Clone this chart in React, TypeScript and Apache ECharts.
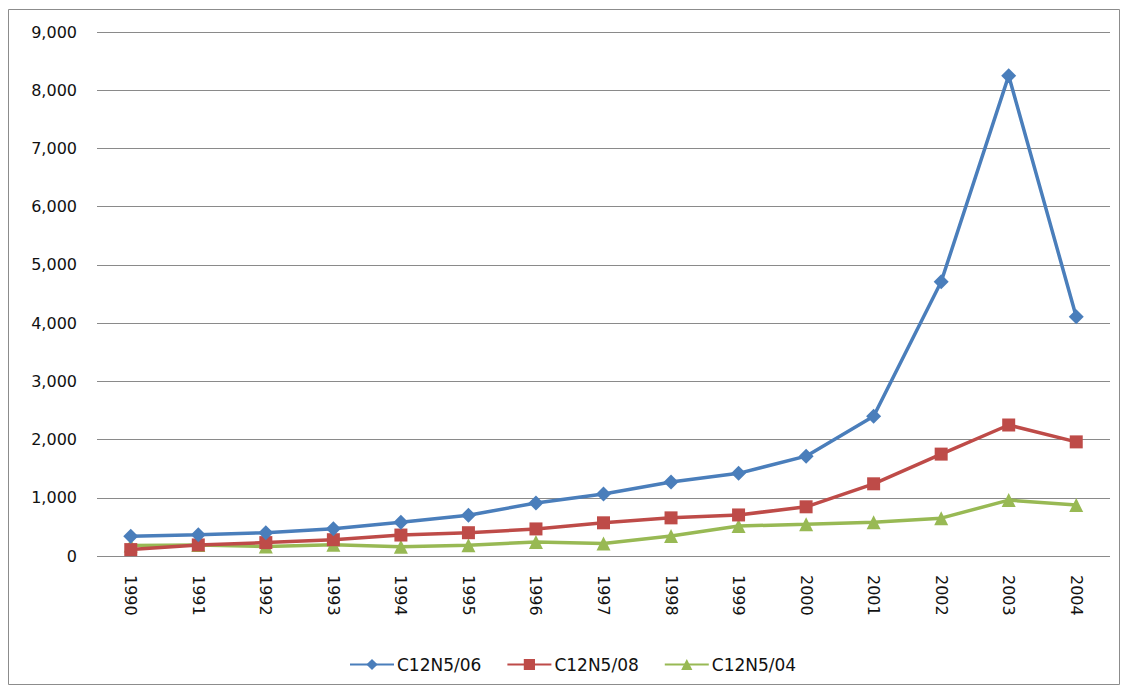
import React, { useEffect, useRef } from "react";
import * as echarts from "echarts";

const years = ["1990", "1991", "1992", "1993", "1994", "1995", "1996", "1997", "1998", "1999", "2000", "2001", "2002", "2003", "2004"];
const seriesNames = ["C12N5/06", "C12N5/08", "C12N5/04"];
const c12n5_06 = [340, 365, 400, 470, 580, 700, 910, 1065, 1270, 1420, 1715, 2400, 4710, 8250, 4110];
const c12n5_08 = [110, 190, 230, 280, 360, 400, 465, 570, 655, 705, 845, 1240, 1750, 2250, 1960];
const c12n5_04 = [180, 190, 165, 195, 160, 185, 240, 215, 345, 515, 545, 580, 650, 960, 875];
const colors = ["#4A7EBB", "#BE4B48", "#98B954"];
const symbols = ["diamond", "rect", "triangle"];
const symbolSizes = [15, 13, 14];

export default function App() {
  const ref = useRef<HTMLDivElement>(null);
  useEffect(() => {
    if (!ref.current) return;
    const chart = echarts.init(ref.current, null, { renderer: "svg" });
    const data = [c12n5_06, c12n5_08, c12n5_04];
    chart.setOption({
      animation: false,
      backgroundColor: "#ffffff",
      textStyle: { fontFamily: "DejaVu Sans" },
      graphic: [
        {
          type: "rect",
          shape: { x: 8.5, y: 9.5, width: 1111, height: 675 },
          style: { fill: "none", stroke: "#8c8c8c", lineWidth: 1 },
          silent: true,
        },
      ],
      grid: { left: 97, right: 12, top: 32, bottom: 131 },
      legend: {
        top: 651,
        left: 344,
        itemWidth: 44,
        itemHeight: 14,
        itemGap: 25,
        textStyle: { fontSize: 17, color: "#111", fontFamily: "DejaVu Sans", padding: [0, 0, 0, -2] },
        data: seriesNames,
      },
      xAxis: {
        type: "category",
        data: years,
        boundaryGap: true,
        axisLine: { show: false },
        axisTick: { show: false },
        axisLabel: { rotate: -90, fontSize: 16, color: "#111", margin: 19 },
      },
      yAxis: {
        type: "value",
        min: 0,
        max: 9000,
        interval: 1000,
        axisLine: { show: false },
        axisTick: { show: false },
        axisLabel: {
          fontSize: 16,
          color: "#111",
          margin: 20,
          formatter: (v: number) => v.toLocaleString("en-US"),
        },
        splitLine: { lineStyle: { color: "#8a8a8a", width: 1 } },
      },
      series: seriesNames.map((name, i) => ({
        name,
        type: "line",
        data: data[i],
        symbol: symbols[i],
        symbolSize: symbolSizes[i],
        showAllSymbol: true,
        lineStyle: { color: colors[i], width: 3.5 },
        itemStyle: { color: colors[i] },
        z: 10 - i,
      })),
    });
    return () => chart.dispose();
  }, []);
  return <div ref={ref} style={{ position: "fixed", left: 0, top: 0, width: 1122, height: 687 }} />;
}
